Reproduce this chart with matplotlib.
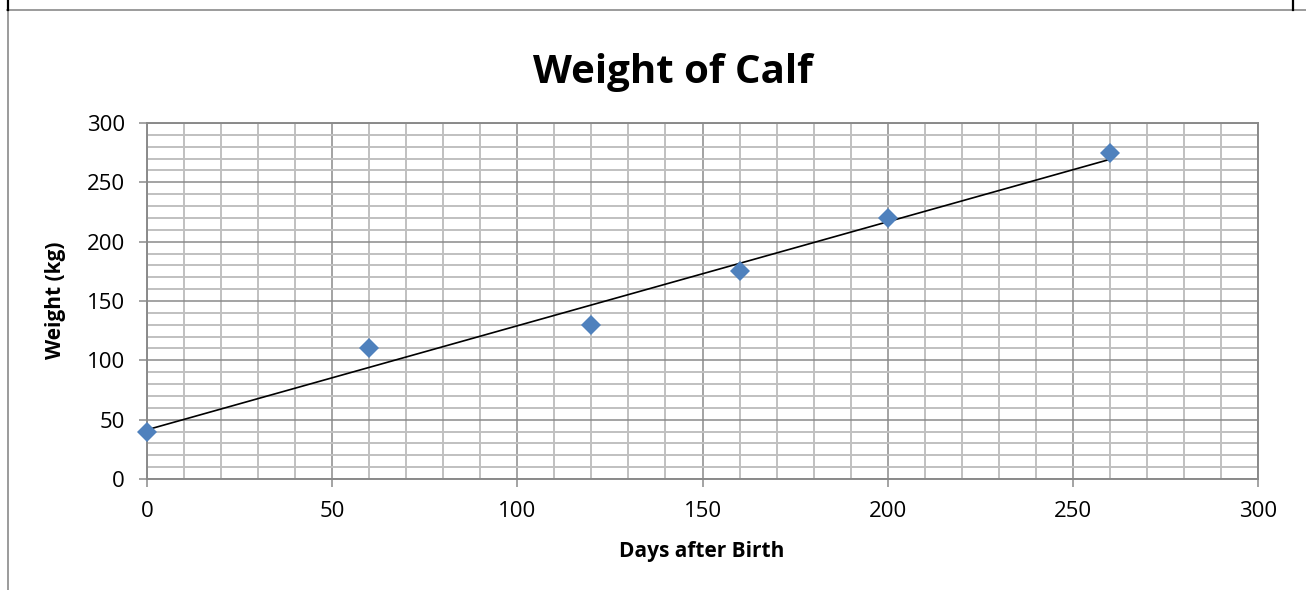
import numpy as np
import matplotlib
matplotlib.use("Agg")
import matplotlib.pyplot as plt
from matplotlib.lines import Line2D
from matplotlib.ticker import MultipleLocator

days = [0, 60, 120, 160, 200, 260]
weight = [40, 110, 130, 175, 220, 275]
title = "Weight of Calf"
xlabel = "Days after Birth"
ylabel = "Weight (kg)"

plt.rcParams['font.family'] = ['Open Sans', 'DejaVu Sans']

W, H = 1306, 590
fig = plt.figure(figsize=(W / 100, H / 100), dpi=100)
ax = fig.add_axes([147 / W, 111 / H, (1258 - 147) / W, (479 - 123) / H])

ax.set_xlim(0, 300)
ax.set_ylim(0, 300)
ax.xaxis.set_major_locator(MultipleLocator(50))
ax.yaxis.set_major_locator(MultipleLocator(50))
ax.xaxis.set_minor_locator(MultipleLocator(10))
ax.yaxis.set_minor_locator(MultipleLocator(10))

ax.grid(which='minor', color='#c0c0c0', linewidth=1.4)
ax.grid(which='major', color='#8a8a8a', linewidth=1.1)
ax.set_axisbelow(True)

for s in ax.spines.values():
    s.set_color('#8a8a8a')
    s.set_linewidth(1.4)

ax.tick_params(which='major', direction='out', length=6, width=1.1, color='#8a8a8a',
               labelsize=16, pad=10)
ax.tick_params(which='minor', length=0)

# trendline (linear fit)
coef = np.polyfit(days, weight, 1)
xs = np.array([min(days), max(days)])
ax.plot(xs, np.polyval(coef, xs), color='black', linewidth=1.2, zorder=3)

ax.plot(days, weight, linestyle='none', marker='D', markersize=10,
        color='#4f81bd', markeredgewidth=0, zorder=4, clip_on=False)

fig.text(673 / W, 1 - 73 / H, title, ha='center', va='center',
         fontsize=29, fontweight='bold')
fig.text(702 / W, 1 - 552 / H, xlabel, ha='center', va='center',
         fontsize=15, fontweight='bold')
fig.text(55 / W, 1 - 300 / H, ylabel, ha='center', va='center',
         fontsize=15, fontweight='bold', rotation=90)

# outer frame lines
fig.add_artist(Line2D([7 / W, 1 / 1], [1 - 10 / H, 1 - 10 / H], transform=fig.transFigure,
                      color='#8a8a8a', linewidth=1.2))
fig.add_artist(Line2D([7.5 / W, 7.5 / W], [0, 1 - 10 / H], transform=fig.transFigure,
                      color='#8a8a8a', linewidth=1.2))
fig.add_artist(Line2D([7.5 / W, 7.5 / W], [1 - 10 / H, 1], transform=fig.transFigure,
                      color='black', linewidth=1.6))
fig.add_artist(Line2D([1293 / W, 1293 / W], [1 - 10 / H, 1], transform=fig.transFigure,
                      color='black', linewidth=1.6))

fig.savefig('out.png', dpi=100)
